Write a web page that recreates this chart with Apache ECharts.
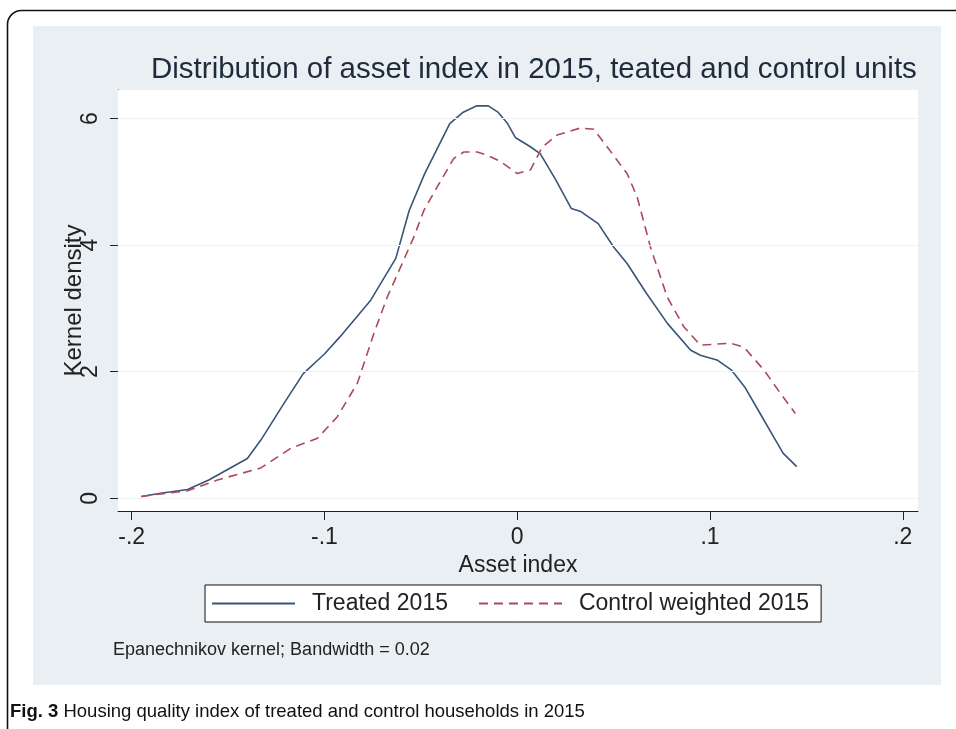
<!DOCTYPE html>
<html>
<head>
<meta charset="utf-8">
<script src="https://cdn.jsdelivr.net/npm/echarts@6/dist/echarts.min.js"></script>
<style>
html,body{margin:0;padding:0;background:#fff;}
#chart{width:956px;height:729px;}
</style>
</head>
<body>
<div id="chart"></div>
<script>
// ---- data ----
const titleText = "Distribution of asset index in 2015, teated and control units";
const xAxisName = "Asset index";
const yAxisName = "Kernel density";
const seriesNames = ["Treated 2015", "Control weighted 2015"];
const xTicks = [-0.2, -0.1, 0, 0.1, 0.2];
const yTicks = [0, 2, 4, 6];
const noteText = "Epanechnikov kernel; Bandwidth = 0.02";
const captionBold = "Fig. 3";
const captionText = " Housing quality index of treated and control households in 2015";

const treatedX = [-0.195, -0.185, -0.171, -0.160, -0.150, -0.140, -0.133, -0.121, -0.111, -0.100, -0.092, -0.076, -0.063, -0.056, -0.048, -0.035, -0.028, -0.021, -0.015, -0.010, -0.005, -0.001, 0.007, 0.012, 0.020, 0.028, 0.033, 0.042, 0.050, 0.057, 0.067, 0.078, 0.090, 0.095, 0.104, 0.111, 0.118, 0.126, 0.133, 0.138, 0.145];
const treatedY = [0.03, 0.08, 0.14, 0.29, 0.46, 0.63, 0.92, 1.50, 1.97, 2.28, 2.55, 3.13, 3.79, 4.55, 5.13, 5.92, 6.10, 6.20, 6.20, 6.10, 5.92, 5.70, 5.55, 5.44, 5.03, 4.58, 4.53, 4.34, 3.97, 3.71, 3.24, 2.76, 2.34, 2.26, 2.18, 2.03, 1.76, 1.34, 0.97, 0.71, 0.50];

const controlX = [-0.195, -0.185, -0.171, -0.160, -0.1555, -0.133, -0.1175, -0.1036, -0.0933, -0.0829, -0.0743, -0.0674, -0.0604, -0.0536, -0.0484, -0.0415, -0.0329, -0.0277, -0.0207, -0.0156, -0.0087, 0.0, 0.0069, 0.013, 0.0207, 0.0328, 0.0397, 0.0467, 0.057, 0.0622, 0.0691, 0.0778, 0.0864, 0.095, 0.1106, 0.1175, 0.1279, 0.1365, 0.1443];
const controlY = [0.03, 0.07, 0.12, 0.24, 0.29, 0.48, 0.79, 0.95, 1.29, 1.82, 2.61, 3.18, 3.66, 4.13, 4.55, 4.92, 5.37, 5.47, 5.47, 5.42, 5.32, 5.13, 5.19, 5.55, 5.74, 5.85, 5.83, 5.55, 5.13, 4.76, 3.97, 3.18, 2.71, 2.42, 2.45, 2.39, 2.03, 1.66, 1.34];

// ---- build ----
const zip = (xs, ys) => xs.map((x, i) => [x, ys[i]]);
const fmt = v => {
  if (Math.abs(v) < 1e-9) return "0";
  let s = String(Math.round(v * 10) / 10);
  return s.replace(/^(-?)0\./, "$1.");
};
const FONT = "'Liberation Sans', Arial, sans-serif";
const TXT = "#222";
const BLUE = "#3a5478";
const RED = "#ab4a58";

const chart = echarts.init(document.getElementById("chart"), null, {renderer: "canvas"});
chart.setOption({
  animation: false,
  backgroundColor: "#fff",
  title: {
    text: titleText,
    left: 146, top: 50,
    textStyle: {fontFamily: FONT, fontSize: 29.5, fontWeight: "normal", color: "#1e2b3c"}
  },
  grid: {
    left: 118, right: 38, top: 90, bottom: 218,
    show: true, backgroundColor: "#fff", borderWidth: 0, z: 1
  },
  legend: {
    left: 205, top: 585,
    itemWidth: 83, itemHeight: 14, itemGap: 30,
    backgroundColor: "#fff", borderColor: "#111", borderWidth: 1,
    padding: [7, 12, 7, 6],
    itemStyle: {opacity: 0},
    textStyle: {fontFamily: FONT, fontSize: 23, color: TXT, padding: [0, 0, 0, 12]},
    data: seriesNames
  },
  xAxis: {
    type: "value", min: -0.2071, max: 0.2079,
    name: xAxisName, nameLocation: "middle", nameGap: 41,
    nameTextStyle: {fontFamily: FONT, fontSize: 23, color: TXT},
    axisLine: {onZero: false, lineStyle: {color: "#222", width: 1}},
    axisTick: {customValues: xTicks, length: 9, lineStyle: {color: "#222"}},
    axisLabel: {customValues: xTicks, formatter: fmt, margin: 15, fontFamily: FONT, fontSize: 23, color: TXT},
    splitLine: {show: false}
  },
  yAxis: {
    type: "value", min: -0.2, max: 6.45,
    name: yAxisName, nameLocation: "middle", nameGap: 32, nameRotate: 90,
    nameMoveOverlap: false,
    nameTextStyle: {fontFamily: FONT, fontSize: 24, color: TXT},
    axisLine: {onZero: false, lineStyle: {color: "#222", width: 1}},
    axisTick: {customValues: yTicks, length: 8, lineStyle: {color: "#222"}},
    axisLabel: {customValues: yTicks, rotate: 90, margin: 16, fontFamily: FONT, fontSize: 23, color: TXT, formatter: fmt},
    splitLine: {show: false}
  },
  series: [
    {
      name: seriesNames[0], type: "line", data: zip(treatedX, treatedY),
      showSymbol: false, symbol: "none", smooth: false, z: 3,
      lineStyle: {color: BLUE, width: 1.6},
      itemStyle: {color: BLUE},
      markLine: {
        silent: true, symbol: "none", label: {show: false},
        lineStyle: {color: "#eef2f4", width: 1.2, type: "solid"},
        data: yTicks.map(v => ({yAxis: v}))
      }
    },
    {
      name: seriesNames[1], type: "line", data: zip(controlX, controlY),
      showSymbol: false, symbol: "none", smooth: false, z: 4,
      lineStyle: {color: RED, width: 1.6, type: [9, 6]},
      itemStyle: {color: RED}
    }
  ],
  graphic: [
    {type: "rect", z: -20, silent: true, shape: {x: 33, y: 26, width: 908, height: 659}, style: {fill: "#e9eff2"}},
    {type: "rect", z: 100, silent: true, shape: {x: 7.5, y: 10.5, width: 1000, height: 800, r: 14}, style: {fill: null, stroke: "#111", lineWidth: 1.6}},
    {type: "text", z: 10, left: 113, top: 641, style: {text: noteText, font: "18px " + FONT, fill: TXT}},
    {type: "text", z: 10, left: 10, top: 702, style: {
      text: "{b|" + captionBold + "}" + captionText,
      font: "18.5px " + FONT, fill: "#111",
      rich: {b: {fontWeight: "bold", fontSize: 18.5, fontFamily: FONT, fill: "#111"}}
    }}
  ]
});
</script>
</body>
</html>
